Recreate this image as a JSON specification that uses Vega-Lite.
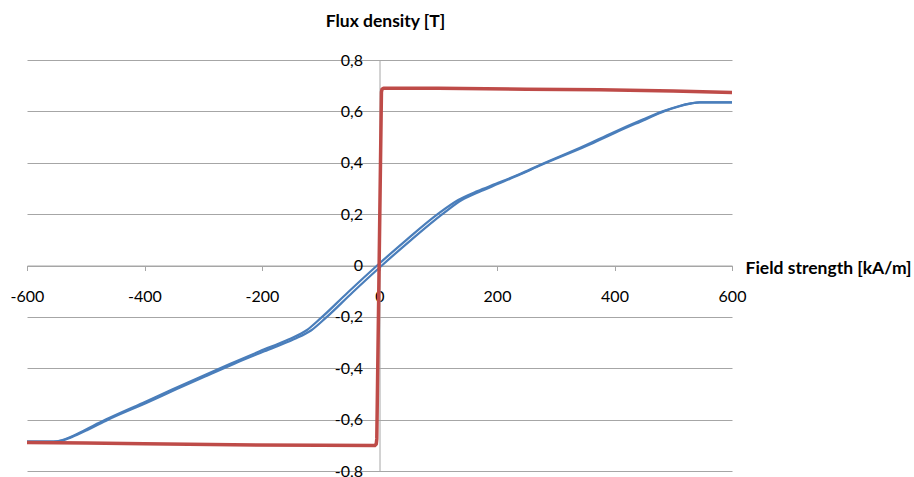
{
  "$schema": "https://vega.github.io/schema/vega-lite/v6.json",
  "width": 705,
  "height": 411,
  "autosize": {"type": "none"},
  "padding": {"left": 27, "top": 60, "right": 182, "bottom": 6},
  "background": "white",
  "config": {"view": {"stroke": null}, "font": "Lato"},
  "datasets": {
    "blue": [
      {"branch": "up", "H": -600, "B": -0.686},
      {"branch": "up", "H": -555, "B": -0.686},
      {"branch": "up", "H": -541, "B": -0.681},
      {"branch": "up", "H": -526, "B": -0.668},
      {"branch": "up", "H": -502, "B": -0.641},
      {"branch": "up", "H": -466, "B": -0.600},
      {"branch": "up", "H": -403, "B": -0.535},
      {"branch": "up", "H": -353, "B": -0.483},
      {"branch": "up", "H": -303, "B": -0.432},
      {"branch": "up", "H": -253, "B": -0.382},
      {"branch": "up", "H": -204, "B": -0.334},
      {"branch": "up", "H": -154, "B": -0.287},
      {"branch": "up", "H": -124, "B": -0.252},
      {"branch": "up", "H": -100, "B": -0.205},
      {"branch": "up", "H": -54, "B": -0.105},
      {"branch": "up", "H": -4, "B": 0.0},
      {"branch": "up", "H": 46, "B": 0.100},
      {"branch": "up", "H": 99, "B": 0.200},
      {"branch": "up", "H": 134, "B": 0.255},
      {"branch": "up", "H": 167, "B": 0.290},
      {"branch": "up", "H": 198, "B": 0.318},
      {"branch": "up", "H": 239, "B": 0.356},
      {"branch": "up", "H": 272, "B": 0.390},
      {"branch": "up", "H": 348, "B": 0.465},
      {"branch": "up", "H": 398, "B": 0.518},
      {"branch": "up", "H": 448, "B": 0.568},
      {"branch": "up", "H": 482, "B": 0.600},
      {"branch": "up", "H": 509, "B": 0.620},
      {"branch": "up", "H": 530, "B": 0.631},
      {"branch": "up", "H": 545, "B": 0.635},
      {"branch": "up", "H": 600, "B": 0.635},
      {"branch": "down", "H": -600, "B": -0.686},
      {"branch": "down", "H": -555, "B": -0.686},
      {"branch": "down", "H": -539, "B": -0.681},
      {"branch": "down", "H": -524, "B": -0.668},
      {"branch": "down", "H": -498, "B": -0.641},
      {"branch": "down", "H": -462, "B": -0.600},
      {"branch": "down", "H": -397, "B": -0.535},
      {"branch": "down", "H": -347, "B": -0.483},
      {"branch": "down", "H": -297, "B": -0.432},
      {"branch": "down", "H": -247, "B": -0.382},
      {"branch": "down", "H": -196, "B": -0.334},
      {"branch": "down", "H": -146, "B": -0.287},
      {"branch": "down", "H": -116, "B": -0.252},
      {"branch": "down", "H": -92, "B": -0.205},
      {"branch": "down", "H": -46, "B": -0.105},
      {"branch": "down", "H": 4, "B": 0.0},
      {"branch": "down", "H": 54, "B": 0.100},
      {"branch": "down", "H": 107, "B": 0.200},
      {"branch": "down", "H": 140, "B": 0.255},
      {"branch": "down", "H": 173, "B": 0.290},
      {"branch": "down", "H": 202, "B": 0.318},
      {"branch": "down", "H": 241, "B": 0.356},
      {"branch": "down", "H": 274, "B": 0.390},
      {"branch": "down", "H": 352, "B": 0.465},
      {"branch": "down", "H": 402, "B": 0.518},
      {"branch": "down", "H": 452, "B": 0.568},
      {"branch": "down", "H": 484, "B": 0.600},
      {"branch": "down", "H": 511, "B": 0.620},
      {"branch": "down", "H": 531, "B": 0.631},
      {"branch": "down", "H": 545, "B": 0.635},
      {"branch": "down", "H": 600, "B": 0.635}
    ],
    "red": [
      {"H": -600, "B": -0.689},
      {"H": -500, "B": -0.691},
      {"H": -400, "B": -0.694},
      {"H": -250, "B": -0.698},
      {"H": -100, "B": -0.700},
      {"H": -8, "B": -0.701},
      {"H": -5.5, "B": -0.695},
      {"H": -4.6, "B": -0.675},
      {"H": 3.3, "B": 0.675},
      {"H": 4.2, "B": 0.686},
      {"H": 7, "B": 0.690},
      {"H": 100, "B": 0.690},
      {"H": 250, "B": 0.686},
      {"H": 375, "B": 0.684},
      {"H": 500, "B": 0.679},
      {"H": 600, "B": 0.673}
    ]
  },
  "encoding": {
    "x": {
      "field": "H", "type": "quantitative",
      "scale": {"domain": [-600, 600], "nice": false, "zero": false},
      "axis": {
        "orient": "bottom", "offset": -205.5,
        "values": [-600, -400, -200, 0, 200, 400, 600],
        "labelExpr": "toString(datum.value)",
        "grid": false,
        "domainColor": "#a6a6a6", "tickColor": "#a6a6a6", "tickSize": 5,
        "labelPadding": 18, "labelFont": "Lato", "labelFontSize": 16, "labelColor": "#000000",
        "labelFlush": false, "labelOverlap": false,
        "title": "Field strength [kA/m]", "titleFont": "Lato", "titleFontSize": 17.5,
        "titleFontWeight": "bold", "titleColor": "#000000",
        "titleX": 718, "titleY": 3, "titleAlign": "left", "titleBaseline": "middle"
      }
    },
    "y": {
      "field": "B", "type": "quantitative",
      "scale": {"domain": [-0.8, 0.8], "nice": false, "zero": false},
      "axis": {
        "orient": "left", "offset": -352.5,
        "values": [-0.8, -0.6, -0.4, -0.2, 0, 0.2, 0.4, 0.6, 0.8],
        "labelExpr": "replace(toString(round(datum.value*10)/10), '.', ',')",
        "grid": true, "gridColor": "#a6a6a6", "gridWidth": 1,
        "domainColor": "#a6a6a6", "tickColor": "#a6a6a6", "tickSize": 5,
        "labelPadding": 12, "labelFont": "Lato", "labelFontSize": 16, "labelColor": "#000000",
        "labelFlush": false, "labelOverlap": false,
        "title": "Flux density [T]", "titleFont": "Lato", "titleFontSize": 17.5,
        "titleFontWeight": "bold", "titleColor": "#000000", "titleAngle": 0,
        "titleX": 5.5, "titleY": -39, "titleAlign": "center", "titleBaseline": "middle"
      }
    }
  },
  "layer": [
    {
      "data": {"name": "blue"},
      "mark": {"type": "line", "strokeWidth": 2.25, "color": "#4a7ebb", "strokeJoin": "round", "interpolate": "monotone"},
      "encoding": {"detail": {"field": "branch"}}
    },
    {
      "data": {"name": "red"},
      "mark": {"type": "line", "strokeWidth": 3.5, "color": "#be4b48", "strokeJoin": "round"},
      "encoding": {}
    }
  ]
}
